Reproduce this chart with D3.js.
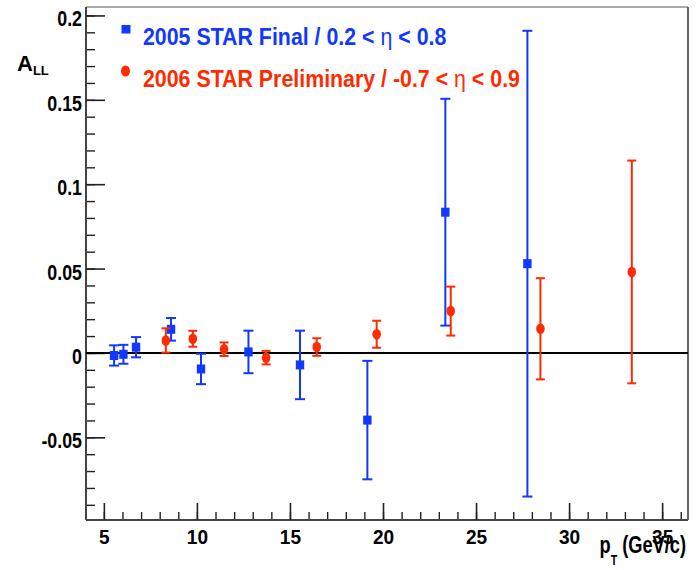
<!DOCTYPE html>
<html>
<head>
<meta charset="utf-8">
<script src="https://cdn.jsdelivr.net/npm/d3@7"></script>
<style>
  html, body { margin: 0; padding: 0; background: #fff; }
  svg { display: block; }
  text { font-family: "Liberation Sans", Arial, Helvetica, sans-serif; font-weight: bold; }
</style>
</head>
<body>
<svg id="chart" width="698" height="570"></svg>
<script>
// ---- data ----
const ptBlue  = [5.55, 6.05, 6.73, 8.61, 10.22, 12.77, 15.54, 19.16, 23.35, 27.76];
const allBlue = [-0.0015, -0.0008, 0.0034, 0.014, -0.0095, 0.0006, -0.0071, -0.0398, 0.0834, 0.0529];
const errBlue = [0.006, 0.0056, 0.006, 0.0067, 0.009, 0.0126, 0.0203, 0.0351, 0.0672, 0.138];

const ptRed  = [8.33, 9.78, 11.46, 13.72, 16.44, 19.66, 23.64, 28.46, 33.37];
const allRed = [0.0074, 0.0084, 0.0022, -0.0028, 0.0035, 0.0111, 0.0248, 0.0143, 0.048];
const errRed = [0.0072, 0.0047, 0.004, 0.004, 0.0052, 0.008, 0.0145, 0.030, 0.066];

const xTickValues = [5, 10, 15, 20, 25, 30, 35];
const yTickValues = [-0.05, 0, 0.05, 0.1, 0.15, 0.2];
const yTickLabels = ["-0.05", "0", "0.05", "0.1", "0.15", "0.2"];
const legendLabels = ["2005 STAR Final / 0.2 < ", "η", " < 0.8",
                      "2006 STAR Preliminary / -0.7 < ", "η", " < 0.9"];

const BLUE = "#1038ff", RED = "#ff2b00";

const svg = d3.select("#chart");
const L = 86, R = 688, T = 7, B = 520;

const x = d3.scaleLinear().domain([4.04, 36.39]).range([L, R]);
const y = d3.scaleLinear().domain([-0.099, 0.205]).range([B, T]);

// frame
svg.append("line").attr("x1", L).attr("x2", R).attr("y1", T).attr("y2", T)
  .attr("stroke", "#555").attr("stroke-width", 1.2);
svg.append("line").attr("x1", R).attr("x2", R).attr("y1", T).attr("y2", B)
  .attr("stroke", "#666").attr("stroke-width", 2);

// minor ticks
const yMinor = d3.range(-0.09, 0.2001, 0.01).map(v => +v.toFixed(3));
const xMinor = d3.range(5, 36.5, 1);
svg.append("g").attr("transform", `translate(${L},0)`)
  .call(d3.axisLeft(y).tickValues(yMinor).tickSizeInner(-9).tickSizeOuter(0).tickFormat(""))
  .call(g => g.select(".domain").remove())
  .call(g => g.selectAll("line").attr("stroke", "#222").attr("stroke-width", 1.4));
svg.append("g").attr("transform", `translate(0,${B})`)
  .call(d3.axisBottom(x).tickValues(xMinor).tickSizeInner(-8).tickSizeOuter(0).tickFormat(""))
  .call(g => g.select(".domain").remove())
  .call(g => g.selectAll("line").attr("stroke", "#222").attr("stroke-width", 1.4));

// major y axis
const ySx = 0.81;
svg.append("g").attr("transform", `translate(${L},0)`)
  .call(d3.axisLeft(y).tickValues(yTickValues).tickSizeInner(-19).tickSizeOuter(0).tickPadding(4)
        .tickFormat((d, i) => yTickLabels[i]))
  .call(g => g.select(".domain").attr("stroke", "#444").attr("stroke-width", 2)
        .attr("d", `M0,${T}V${B}`))
  .call(g => g.selectAll(".tick line").attr("stroke", "#222").attr("stroke-width", 1.6))
  .call(g => g.selectAll("text").attr("fill", "#000").attr("font-size", 22)
        .attr("font-family", null).attr("x", -4 / ySx).attr("dy", "0.48em")
        .attr("transform", `scale(${ySx},1)`));

// major x axis
const xSx = 0.93;
svg.append("g").attr("transform", `translate(0,${B})`)
  .call(d3.axisBottom(x).tickValues(xTickValues).tickSizeInner(-17).tickSizeOuter(0).tickPadding(4))
  .call(g => g.select(".domain").attr("stroke", "#444").attr("stroke-width", 2)
        .attr("d", `M${L},0H${R}`))
  .call(g => g.selectAll(".tick line").attr("stroke", "#222").attr("stroke-width", 1.6))
  .call(g => g.selectAll("text").attr("fill", "#000").attr("font-size", 20.5)
        .attr("font-family", null).attr("y", 24).attr("dy", 0)
        .attr("transform", `scale(${xSx},1)`));

// zero line
svg.append("line").attr("x1", L).attr("x2", R).attr("y1", y(0)).attr("y2", y(0))
  .attr("stroke", "#000").attr("stroke-width", 2);

// error bars + markers
function drawSeries(pt, val, err, color, cap, shape) {
  const g = svg.append("g");
  pt.forEach((p, i) => {
    const cx = x(p), y1 = y(val[i] + err[i]), y0 = y(val[i] - err[i]);
    g.append("line").attr("x1", cx).attr("x2", cx).attr("y1", y1).attr("y2", y0)
      .attr("stroke", color).attr("stroke-width", 2);
    [y1, y0].forEach(yy => g.append("line").attr("x1", cx - cap / 2).attr("x2", cx + cap / 2)
      .attr("y1", yy).attr("y2", yy).attr("stroke", color).attr("stroke-width", 2));
    if (shape === "square") {
      g.append("rect").attr("x", cx - 4.2).attr("y", y(val[i]) - 4.5)
        .attr("width", 8.4).attr("height", 9).attr("fill", color);
    } else {
      g.append("ellipse").attr("cx", cx).attr("cy", y(val[i]))
        .attr("rx", 4.3).attr("ry", 5.3).attr("fill", color);
    }
  });
}
drawSeries(ptBlue, allBlue, errBlue, BLUE, 10, "square");
drawSeries(ptRed, allRed, errRed, RED, 9, "circle");

// legend
const lSx = 0.89;
function legendLine(yBase, parts, color) {
  const t = svg.append("text").attr("transform", `translate(143,${yBase}) scale(${lSx},1)`)
    .attr("fill", color).attr("font-size", 24);
  t.append("tspan").text(parts[0]);
  t.append("tspan").attr("font-weight", "normal").text(parts[1]);
  t.append("tspan").text(parts[2]);
}
svg.append("rect").attr("x", 121.5).attr("y", 25).attr("width", 9).attr("height", 8.5).attr("fill", BLUE);
legendLine(45, legendLabels.slice(0, 3), BLUE);
svg.append("ellipse").attr("cx", 125.5).attr("cy", 71).attr("rx", 4.5).attr("ry", 5.5).attr("fill", RED);
legendLine(87, legendLabels.slice(3, 6), RED);

// y title A_LL
const yt = svg.append("text").attr("transform", "translate(17,71)").attr("fill", "#000");
yt.append("tspan").attr("font-size", 22).text("A");
yt.append("tspan").attr("font-size", 13).attr("dy", 4).text("LL");

// x title p_T (GeV/c)
const xtSx = 0.76;
const xt = svg.append("text").attr("transform", `translate(686,553) scale(${xtSx},1)`)
  .attr("text-anchor", "end").attr("fill", "#000").attr("font-size", 24);
xt.append("tspan").text("p");
xt.append("tspan").attr("font-size", 14).attr("dy", 12).text("T");
xt.append("tspan").attr("dy", -12).text(" (GeV/c)");
</script>
</body>
</html>
